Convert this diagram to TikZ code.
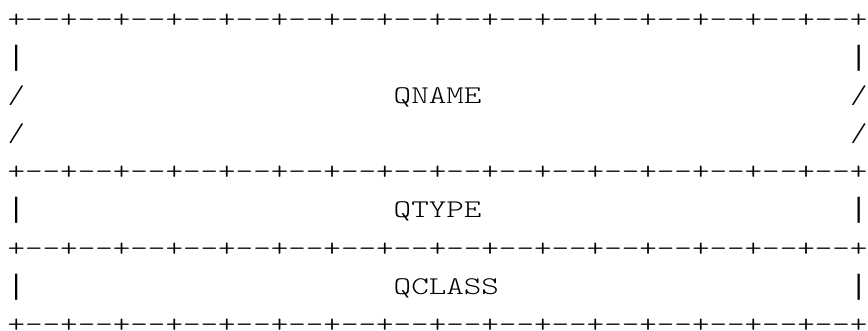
\documentclass[tikz,border=0pt]{standalone}
\usepackage{fontspec}
% Light typewriter face for the field layout, widened to a 17.55pt character cell
\newfontfamily\asciitt{lmmonolt10-regular}[Extension=.otf, FakeStretch=1.3109]
% Tall vertical bar for the field sides
\newfontfamily\barfont{Liberation Mono}
% one "--+" cell of a border row (the kern keeps the two hyphens apart)
\newcommand\borderseg{-\kern0pt-\kern0pt+}
\newcommand\borderline{+\borderseg\borderseg\borderseg\borderseg\borderseg\borderseg\borderseg\borderseg\borderseg\borderseg\borderseg\borderseg\borderseg\borderseg\borderseg\borderseg}
\begin{document}
\begin{tikzpicture}[x=1pt,y=1pt,
  glyph/.style={inner sep=0pt, outer sep=0pt, text=black,
    font=\asciitt\fontsize{25.5}{30}\selectfont},
  rowtext/.style={glyph, anchor=base west},
  edge/.style={glyph, anchor=base},
  sidebar/.style={edge, font=\barfont\fontsize{28}{30}\selectfont}]
\useasboundingbox (0,0) rectangle (868,-330);
% column geometry: left edge of column 0 and cell width
\def\xl{7.6}
\def\cw{17.55}
% baselines of the nine rows
\def\ya{-27.7}  \def\yb{-65.75} \def\yc{-103.8}
\def\yd{-141.85}\def\ye{-179.9} \def\yf{-217.95}
\def\yg{-256.0} \def\yh{-294.05}\def\yi{-332.1}

% border rows
\node[rowtext] (bordertop)  at (\xl,\ya) {\borderline};
\node[rowtext] (bordername) at (\xl,\ye) {\borderline};
\node[rowtext] (bordertype) at (\xl,\yg) {\borderline};
\node[rowtext] (borderend)  at (\xl,\yi) {\borderline};

% QNAME field (variable length)
\node[sidebar] (namebarL)  at ({\xl+0.5*\cw},\yb) {|};
\node[sidebar] (namebarR)  at ({\xl+48.5*\cw},\yb) {|};
\node[edge] (nameslL1)  at ({\xl+0.5*\cw},\yc) {/};
\node[edge] (nameslR1)  at ({\xl+48.5*\cw},\yc) {/};
\node[edge] (nameslL2)  at ({\xl+0.5*\cw},\yd) {/};
\node[edge] (nameslR2)  at ({\xl+48.5*\cw},\yd) {/};
\node[rowtext] (qname)  at ({\xl+22*\cw},\yc) {QNAME};

% QTYPE field
\node[sidebar] (typebarL)  at ({\xl+0.5*\cw},\yf) {|};
\node[sidebar] (typebarR)  at ({\xl+48.5*\cw},\yf) {|};
\node[rowtext] (qtype)  at ({\xl+22*\cw},\yf) {QTYPE};

% QCLASS field
\node[sidebar] (classbarL) at ({\xl+0.5*\cw},\yh) {|};
\node[sidebar] (classbarR) at ({\xl+48.5*\cw},\yh) {|};
\node[rowtext] (qclass) at ({\xl+22*\cw},\yh) {QCLASS};
\end{tikzpicture}
\end{document}
